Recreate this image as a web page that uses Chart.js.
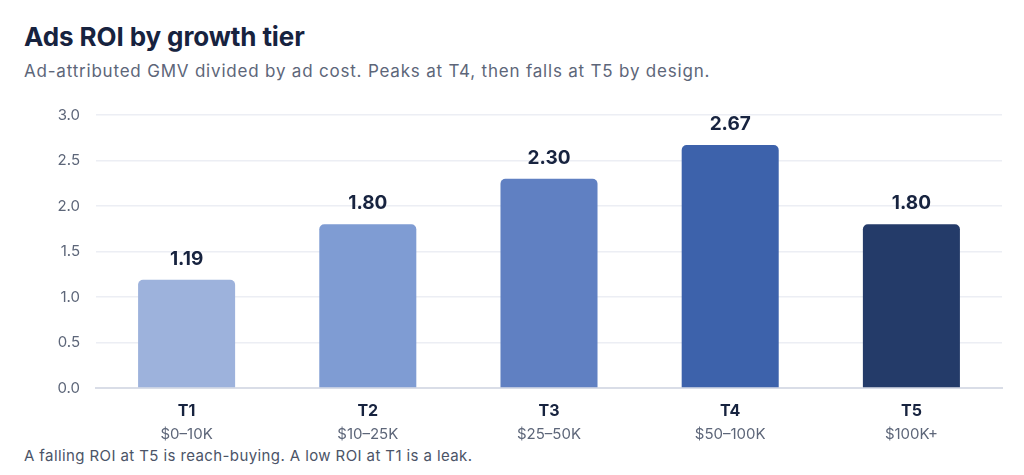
<!DOCTYPE html>
<html>
<head>
<meta charset="utf-8">
<script src="https://cdn.jsdelivr.net/npm/chart.js@4"></script>
<style>
  html, body { margin: 0; padding: 0; background: #ffffff; width: 1024px; height: 475px; overflow: hidden; font-family: Inter, "Noto Sans", sans-serif; }
  #title { position: absolute; left: 24px; top: 21px; font-size: 26px; font-weight: 700; color: #17233f; letter-spacing: -0.1px; }
  #subtitle { position: absolute; left: 24px; top: 61px; font-size: 17px; color: #5d6679; letter-spacing: 0.8px; }
  #footer { position: absolute; left: 24px; top: 446px; font-size: 15px; color: #4b5467; letter-spacing: 0.4px; }
  #wrap { position: absolute; left: 24px; top: 90px; width: 984px; height: 356px; }
</style>
</head>
<body>
<div id="title">Ads ROI by growth tier</div>
<div id="subtitle">Ad-attributed GMV divided by ad cost. Peaks at T4, then falls at T5 by design.</div>
<div id="wrap"><canvas id="c"></canvas></div>
<div id="footer">A falling ROI at T5 is reach-buying. A low ROI at T1 is a leak.</div>
<script>
const tiers = ["T1", "T2", "T3", "T4", "T5"];
const ranges = ["$0–10K", "$10–25K", "$25–50K", "$50–100K", "$100K+"];
const roi = [1.19, 1.80, 2.30, 2.67, 1.80];
const barColors = ["#9db2dc", "#7f9cd3", "#6080c2", "#3d62ab", "#243b69"];
const yTicks = [0, 0.5, 1.0, 1.5, 2.0, 2.5, 3.0];

const valueLabels = {
  id: "valueLabels",
  afterDatasetsDraw(chart) {
    const ctx = chart.ctx;
    const meta = chart.getDatasetMeta(0);
    ctx.save();
    ctx.font = "700 19px Inter, 'Noto Sans', sans-serif";
    ctx.fillStyle = "#17233f";
    ctx.textAlign = "center";
    ctx.textBaseline = "bottom";
    meta.data.forEach((bar, i) => {
      ctx.fillText(roi[i].toFixed(2), bar.x, bar.y - 11);
    });
    ctx.restore();
  }
};

new Chart(document.getElementById("c"), {
  type: "bar",
  data: {
    labels: tiers,
    datasets: [{
      data: roi,
      backgroundColor: barColors,
      borderRadius: { topLeft: 5, topRight: 5, bottomLeft: 0, bottomRight: 0 },
      borderSkipped: "bottom",
      barPercentage: 0.9,
      categoryPercentage: 0.595,
      xAxisID: "x",
      yAxisID: "y"
    }]
  },
  options: {
    responsive: true,
    maintainAspectRatio: false,
    animation: false,
    layout: { padding: { top: 0, right: 6, bottom: 0, left: 0 } },
    plugins: { legend: { display: false }, tooltip: { enabled: false } },
    scales: {
      y: {
        min: 0, max: 3,
        afterBuildTicks(scale) { scale.ticks = yTicks.map(v => ({ value: v })); },
        afterFit(scale) { scale.width = 72; },
        ticks: {
          padding: 16,
          color: "#5d6679",
          font: { family: "Inter, 'Noto Sans', sans-serif", size: 15 },
          callback: v => Number(v).toFixed(1)
        },
        grid: { color: "#eceef4", lineWidth: 1.5, drawTicks: false },
        border: { display: false }
      },
      x: {
        type: "category",
        position: "bottom",
        labels: tiers,
        afterFit(scale) { scale.height = 34; },
        grid: { display: false, drawTicks: false },
        border: { display: true, color: "#d9dde7", width: 2 },
        ticks: {
          padding: 14,
          color: "#17233f",
          font: { family: "Inter, 'Noto Sans', sans-serif", size: 16, weight: "700" }
        }
      },
      x2: {
        type: "category",
        position: "bottom",
        labels: ranges,
        afterFit(scale) { scale.height = 24; },
        grid: { display: false, drawTicks: false },
        border: { display: false },
        ticks: {
          padding: 3,
          color: "#5d6679",
          font: { family: "Inter, 'Noto Sans', sans-serif", size: 15 }
        }
      }
    }
  },
  plugins: [valueLabels]
});
</script>
</body>
</html>
